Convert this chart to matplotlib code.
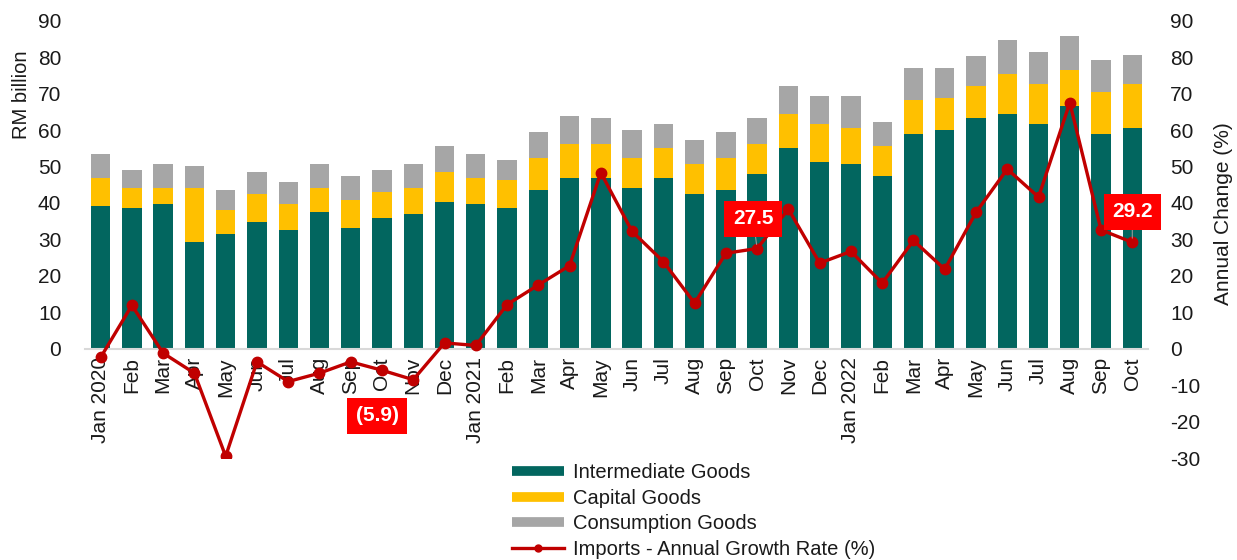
import numpy as np
import matplotlib
matplotlib.use("Agg")
import matplotlib.pyplot as plt
from matplotlib.lines import Line2D

plt.rcParams['font.family'] = ['Liberation Sans', 'DejaVu Sans']
plt.rcParams['axes.unicode_minus'] = False

# monthly data, Jan 2020 - Oct 2022 (RM billion, stacked)
months = ["Jan 2020", "Feb", "Mar", "Apr", "May", "Jun", "Jul", "Aug", "Sep", "Oct", "Nov", "Dec",
          "Jan 2021", "Feb", "Mar", "Apr", "May", "Jun", "Jul", "Aug", "Sep", "Oct", "Nov", "Dec",
          "Jan 2022", "Feb", "Mar", "Apr", "May", "Jun", "Jul", "Aug", "Sep", "Oct"]

intermediate = [39.1, 38.6, 39.7, 29.2, 31.4, 34.7, 32.5, 37.5, 33.1, 35.8, 36.9, 40.2,
                39.7, 38.6, 43.5, 46.8, 46.8, 44.0, 46.8, 42.4, 43.5, 47.9, 55.0, 51.2,
                50.6, 47.3, 58.8, 59.9, 63.2, 64.3, 61.6, 66.5, 58.8, 60.5]
capital = [7.7, 5.4, 4.3, 14.8, 6.6, 7.7, 7.2, 6.5, 7.7, 7.2, 7.1, 8.2,
           7.1, 7.6, 8.8, 9.3, 9.3, 8.3, 8.2, 8.2, 8.8, 8.2, 9.3, 10.4,
           9.9, 8.3, 9.4, 8.8, 8.8, 11.0, 11.0, 9.9, 11.6, 12.1]
consumption = [6.6, 5.0, 6.6, 6.1, 5.5, 6.0, 6.0, 6.6, 6.5, 6.0, 6.6, 7.2,
               6.6, 5.5, 7.1, 7.7, 7.1, 7.6, 6.6, 6.6, 7.1, 7.1, 7.7, 7.7,
               8.8, 6.5, 8.7, 8.2, 8.2, 9.3, 8.7, 9.3, 8.7, 8.1]
growth = [-2.4, 11.9, -1.2, -6.7, -29.5, -3.6, -9.0, -6.7, -3.6, -5.9, -8.5, 1.6,
          0.9, 12.1, 17.5, 22.8, 48.3, 32.2, 23.9, 12.5, 26.2, 27.5, 38.3, 23.5,
          26.7, 18.0, 29.7, 21.8, 37.4, 49.3, 41.6, 67.5, 32.6, 29.2]

# labelled points: (index, text, label x, label y, connector)
callouts = [(9, "(5.9)", 8.85, -18.4, False), (21, "27.5", 20.87, 35.6, True),
            (33, "29.2", 33.0, 37.6, True)]

c_int = "#02665F"
c_cap = "#FFC000"
c_con = "#A6A6A6"
c_line = "#C00000"
txt = "#1a1a1a"

x = np.arange(len(months))
inter = np.array(intermediate)
cap = np.array(capital)
con = np.array(consumption)

fig = plt.figure(figsize=(12.37, 5.6), dpi=100)
ax = fig.add_axes([0.0687, 0.182, 0.8593, 0.781])
ax2 = ax.twinx()

w = 0.62
ax.bar(x, inter, w, color=c_int, label="Intermediate Goods")
ax.bar(x, cap, w, bottom=inter, color=c_cap, label="Capital Goods")
ax.bar(x, con, w, bottom=inter + cap, color=c_con, label="Consumption Goods")

ax2.plot(x, growth, color=c_line, lw=2.4, marker="o", ms=7.5,
         label="Imports - Annual Growth Rate (%)")

for i, t, lx, ly, conn in callouts:
    arrow = dict(arrowstyle="-", color="#999999", lw=0.8, shrinkA=0, shrinkB=3) if conn else None
    ax2.annotate(t, xy=(x[i], growth[i]), xytext=(lx, ly), textcoords="data",
                 ha="center", va="center", color="white", fontsize=15, fontweight="bold",
                 bbox=dict(boxstyle="square,pad=0.4", fc="#FF0000", ec="none"),
                 arrowprops=arrow)

for a in (ax, ax2):
    a.set_ylim(-30, 90)
    a.set_xlim(-0.5, len(months) - 0.5)
    for s in ("top", "left", "right", "bottom"):
        a.spines[s].set_visible(False)

ax.spines["bottom"].set_visible(True)
ax.spines["bottom"].set_position(("data", 0))
ax.spines["bottom"].set_color("#D9D9D9")
ax.spines["bottom"].set_linewidth(1.5)

ax.set_yticks(np.arange(0, 91, 10))
ax2.set_yticks(np.arange(-30, 91, 10))
ax.tick_params(axis="y", length=0, pad=17, labelsize=15, labelcolor=txt)
ax2.tick_params(axis="y", length=0, pad=16, labelsize=15, labelcolor=txt)
ax.set_xticks(x)
ax.set_xticklabels(months, rotation=90, fontsize=15, color=txt)
ax.tick_params(axis="x", length=0, pad=6)
ax2.tick_params(axis="x", length=0)

ax.set_ylabel("RM billion", fontsize=14.5, color=txt)
ax.yaxis.set_label_coords(-0.051, 0.83)
ax2.set_ylabel("Annual Change (%)", fontsize=15, color=txt)
ax2.yaxis.set_label_coords(1.062, 0.56)

h1, l1 = ax.get_legend_handles_labels()
handles = [Line2D([0], [0], color=c, lw=7, solid_capstyle="butt") for c in (c_int, c_cap, c_con)]
handles.append(Line2D([0], [0], color=c_line, lw=2.4, marker="o", ms=5))
fig.legend(handles, l1 + ["Imports - Annual Growth Rate (%)"], loc="upper left",
           bbox_to_anchor=(498 / 1237, 1 - 449 / 560), frameon=False, fontsize=14.5,
           handlelength=2.6, handletextpad=0.4, labelspacing=0.33, borderpad=0.2,
           labelcolor=txt)

fig.savefig("out.png", dpi=100)
